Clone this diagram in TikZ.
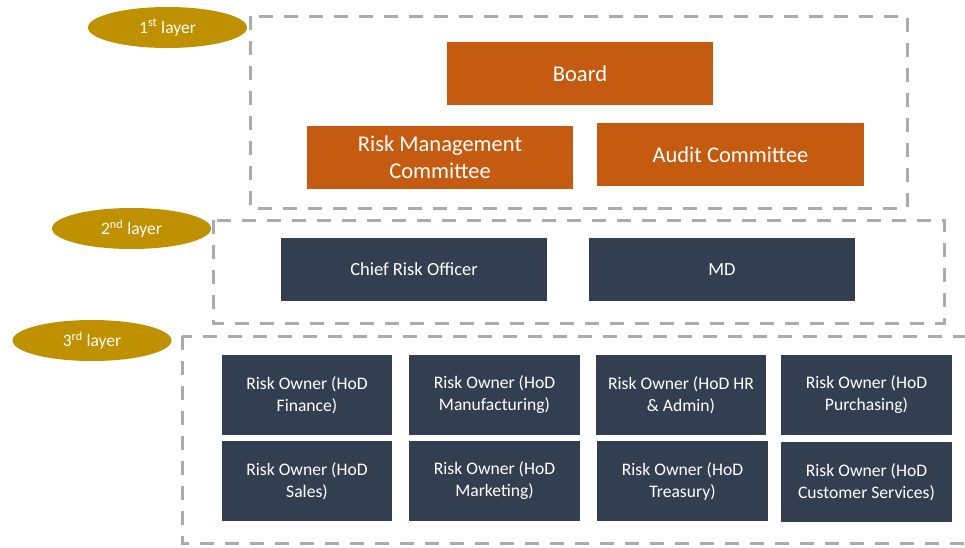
\documentclass[tikz,border=0pt]{standalone}
\usepackage{fontspec}
\setmainfont{Carlito}
\usetikzlibrary{shapes.geometric}
\definecolor{orng}{HTML}{C55A11}
\definecolor{dark}{HTML}{333F50}
\definecolor{gold}{HTML}{BF9000}
\definecolor{dashgray}{HTML}{ABABAB}
\tikzset{
  layerbox/.style={draw=dashgray, line width=3pt, dash pattern=on 14pt off 11pt},
  layertag/.style={ellipse, fill=gold, draw=none, inner sep=0pt, minimum width=159pt, minimum height=41pt, text=white, font=\fontsize{17.5}{20}\selectfont},
  topbox/.style={rectangle, fill=orng, draw=none, inner sep=0pt, minimum width=266pt, minimum height=63pt, text=white, align=center, font=\fontsize{22.5}{27}\selectfont},
  midbox/.style={rectangle, fill=dark, draw=none, inner sep=0pt, minimum width=266pt, minimum height=63pt, text=white, align=center, font=\fontsize{18.5}{22}\selectfont},
  ownerbox/.style={rectangle, fill=dark, draw=none, inner sep=0pt, minimum width=170pt, minimum height=80pt, text=white, align=center, font=\fontsize{17.6}{22}\selectfont}
}
\begin{document}
\begin{tikzpicture}[x=1pt,y=-1pt]
\useasboundingbox (0,0) rectangle (965,547);
\fill[white] (0,0) rectangle (965,547);
% dashed layer frames
\draw[layerbox] (250,16) rectangle (907,208);
\draw[layerbox] (213,220) rectangle (944,323);
\draw[layerbox] (182,336) rectangle (980,543);
% layer tags
\node[layertag] (l1) at (167.5,27.5) {1\textsuperscript{st} layer};
\node[layertag] (l2) at (131.5,228.5) {2\textsuperscript{nd} layer};
\node[layertag] (l3) at (92,340.5) {3\textsuperscript{rd} layer};
% first layer
\node[topbox] (board) at (580,73.5) {Board};
\node[topbox] (rmc) at (440,157.5) {Risk Management\\Committee};
\node[topbox, minimum width=267pt] (audit) at (730.5,154.5) {Audit Committee};
% second layer
\node[midbox] (cro) at (414,269.5) {Chief Risk Officer};
\node[midbox] (md) at (722,269.5) {MD};
% third layer
\node[ownerbox] (o1) at (307,395) {Risk Owner (HoD\\Finance)};
\node[ownerbox, minimum width=171pt] (o2) at (494.5,395) {Risk Owner (HoD\\Manufacturing)};
\node[ownerbox] (o3) at (681,395) {Risk Owner (HoD HR\\\&~Admin)};
\node[ownerbox, minimum width=171pt] (o4) at (866.5,395) {Risk Owner (HoD\\Purchasing)};
\node[ownerbox] (o5) at (307,481) {Risk Owner (HoD\\Sales)};
\node[ownerbox, minimum width=171pt] (o6) at (494.5,481) {Risk Owner (HoD\\Marketing)};
\node[ownerbox, minimum width=171pt] (o7) at (682.5,481) {Risk Owner (HoD\\Treasury)};
\node[ownerbox, minimum width=171pt] (o8) at (866.5,482) {Risk Owner (HoD\\Customer Services)};
\end{tikzpicture}
\end{document}
